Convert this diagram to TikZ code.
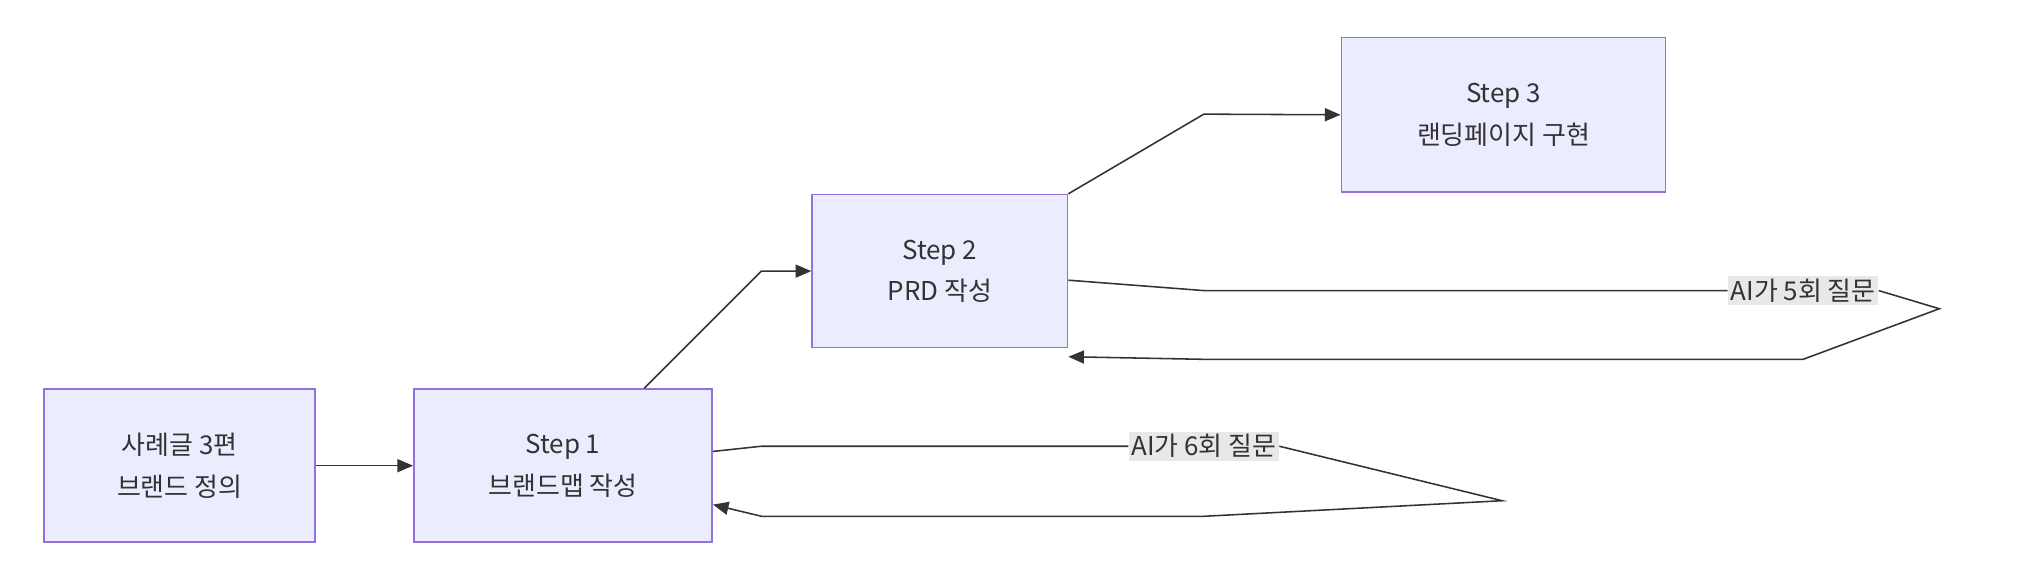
\documentclass[tikz,border=0pt]{standalone}
\usepackage{fontspec}
\setmainfont{Noto Sans CJK KR}
\usetikzlibrary{arrows.meta}
\definecolor{boxfill}{HTML}{ECECFF}
\definecolor{boxline}{HTML}{9370DB}
\definecolor{edgeline}{HTML}{333333}
\definecolor{labelfill}{HTML}{E8E8E8}
\begin{document}
\begin{tikzpicture}[x=0.5pt,y=-0.5pt,
	stepbox/.style={draw=boxline, fill=boxfill, line width=0.6pt, align=center, font=\fontsize{10}{16}\selectfont, text=edgeline},
	link/.style={draw=edgeline, line width=0.6pt, -{Triangle[length=6pt,width=5pt]}},
	asklabel/.style={fill=labelfill, inner sep=1pt, font=\fontsize{10}{12}\selectfont, text=edgeline}]
	\useasboundingbox (0,0) rectangle (1568,449);
	\node[stepbox, minimum width=209*0.5pt, minimum height=118*0.5pt] (BRAND)	at (138.5,359)	{사례글 3편\\브랜드 정의};
	\node[stepbox, minimum width=230*0.5pt, minimum height=118*0.5pt] (STEP1)	at (434,359)	{Step 1\\브랜드맵 작성};
	\node[stepbox, minimum width=197*0.5pt, minimum height=118*0.5pt] (STEP2)	at (724.5,209)	{Step 2\\PRD 작성};
	\node[stepbox, minimum width=250*0.5pt, minimum height=119*0.5pt] (STEP3)	at (1159,88.5)	{Step 3\\랜딩페이지 구현};

	% feedback loop labels and turning points
	\node[asklabel] (ASK1) at (928,344) {AI가 6회 질문};
	\node[asklabel] (ASK2) at (1390,224) {AI가 5회 질문};
	\coordinate (TIP1) at (1158,386);
	\coordinate (TIP2) at (1495,238);

	\draw[link] (BRAND) -- (STEP1);
	\draw[link] (STEP1.north east) ++(-53,0) -- (587,209) -- (STEP2.west);
	\draw[link] (STEP2.north east) -- (928,88) -- (STEP3.west);

	\draw[link] (STEP1.east) ++(0,-11) -- (587,344) -- (ASK1.west) (ASK1.east) -- (TIP1) -- (928,398) -- (587,398) -- ([yshift=-15]STEP1.east);
	\draw[link] (STEP2.east) ++(0,7) -- (928,224) -- (ASK2.west) (ASK2.east) -- (TIP2) -- (1390,277) -- (928,277) -- ([yshift=-33]STEP2.east);
\end{tikzpicture}
\end{document}
